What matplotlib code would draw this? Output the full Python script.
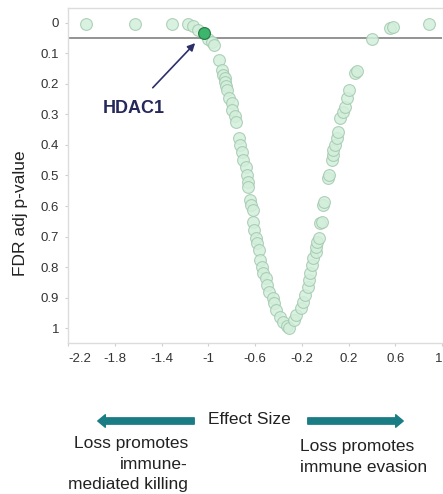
import numpy as np
import matplotlib.pyplot as plt

plt.rcParams['font.family'] = ['Liberation Sans', 'DejaVu Sans']

# effect size / FDR adjusted p-value
effect = [-2.05, -1.63, -1.31, -1.17, -1.13, -1.09, -1.00, -0.97, -0.95,
          -0.91, -0.88, -0.87, -0.86, -0.855, -0.85, -0.84, -0.82, -0.80,
          -0.795, -0.77, -0.76, -0.74, -0.73, -0.71, -0.70, -0.68, -0.67,
          -0.66, -0.66, -0.64, -0.63, -0.62, -0.615, -0.605, -0.59, -0.58,
          -0.57, -0.555, -0.54, -0.53, -0.51, -0.495, -0.48, -0.45, -0.44,
          -0.42, -0.39, -0.36, -0.33, -0.31,
          -0.27, -0.25, -0.21, -0.19, -0.17, -0.15, -0.14, -0.13, -0.11,
          -0.10, -0.08, -0.075, -0.066, -0.05, -0.04, -0.03, -0.015, -0.006,
          0.028, 0.036, 0.062, 0.071, 0.071, 0.088, 0.105, 0.114, 0.131,
          0.156, 0.174, 0.191, 0.208, 0.259, 0.276, 0.405, 0.551, 0.585, 0.885]
fdr = [0.003, 0.003, 0.003, 0.003, 0.010, 0.023, 0.052, 0.062, 0.072,
       0.121, 0.154, 0.170, 0.180, 0.193, 0.207, 0.220, 0.246, 0.262,
       0.285, 0.305, 0.325, 0.377, 0.400, 0.423, 0.449, 0.472, 0.498,
       0.521, 0.538, 0.580, 0.597, 0.613, 0.652, 0.679, 0.705, 0.721,
       0.744, 0.777, 0.800, 0.820, 0.836, 0.859, 0.882, 0.902, 0.918,
       0.941, 0.964, 0.980, 0.993, 1.000,
       0.974, 0.957, 0.934, 0.915, 0.892, 0.866, 0.843, 0.820, 0.793,
       0.770, 0.751, 0.734, 0.718, 0.705, 0.656, 0.654, 0.597, 0.587,
       0.508, 0.498, 0.449, 0.433, 0.416, 0.400, 0.377, 0.357, 0.311,
       0.292, 0.275, 0.246, 0.220, 0.164, 0.157, 0.052, 0.016, 0.013, 0.003]

hdac1_effect = -1.035
hdac1_fdr = 0.033
cutoff = 0.05

xticks = [-2.2, -1.8, -1.4, -1.0, -0.6, -0.2, 0.2, 0.6, 1.0]
xlabels = ['-2.2', '-1.8', '-1.4', '-1', '-0.6', '-0.2', '0.2', '0.6', '1']
yticks = [0, 0.1, 0.2, 0.3, 0.4, 0.5, 0.6, 0.7, 0.8, 0.9, 1.0]
ylabels = ['0', '0.1', '0.2', '0.3', '0.4', '0.5', '0.6', '0.7', '0.8', '0.9', '1']

W, H = 443, 494
fig = plt.figure(figsize=(W / 100, H / 100), dpi=100)
ax = fig.add_axes([68 / W, 1 - 343 / H, (442 - 68) / W, (343 - 8) / H])

ax.axhline(cutoff, color='#8a8a8a', lw=1.3, zorder=1)
ax.scatter(effect, fdr, s=72, facecolor='#d3efdc', edgecolor='#a3c9ae',
           linewidths=0.8, alpha=0.85, zorder=2)
ax.scatter([hdac1_effect], [hdac1_fdr], s=72, facecolor='#3db56d',
           edgecolor='#27804a', linewidths=0.9, zorder=3)

ax.annotate('HDAC1', xy=(-1.112, 0.066), xytext=(-1.64, 0.279),
            ha='center', va='center', fontsize=13, fontweight='bold',
            color='#25285a',
            arrowprops=dict(arrowstyle='-|>', color='#2d2f6b', lw=1.2,
                            shrinkA=9, shrinkB=0, mutation_scale=11))

ax.set_xlim(-2.2, 1.0)
ax.set_ylim(1.049, -0.049)
ax.set_xticks(xticks)
ax.set_xticklabels(xlabels)
ax.set_yticks(yticks)
ax.set_yticklabels(ylabels)
ax.get_xticklabels()[0].set_horizontalalignment('left')
ax.get_xticklabels()[-1].set_horizontalalignment('right')
ax.tick_params(axis='both', labelsize=9.5, colors='#cfcfcf',
               labelcolor='#333333', length=2.5)
ax.tick_params(axis='x', pad=4.5)
ax.tick_params(axis='y', pad=4)
for side in ['top', 'left', 'bottom']:
    ax.spines[side].set_color('#dcdcdc')
    ax.spines[side].set_linewidth(1.0)
ax.spines['right'].set_visible(False)

fig.text(21 / W, 1 - 213 / H, 'FDR adj p-value', rotation=90, ha='center',
         va='center', fontsize=12.5, color='#222222')

# bottom annotations
fig.text(249 / W, 1 - 419 / H, 'Effect Size', ha='center', va='center',
         fontsize=12.5, color='#222222')
teal = '#1a7c85'
astyle = 'simple,head_length=0.45,head_width=0.75,tail_width=0.38'
fig.add_artist(plt.matplotlib.patches.FancyArrowPatch(
    (197 / W, 1 - 421 / H), (95 / W, 1 - 421 / H), transform=fig.transFigure,
    arrowstyle=astyle, mutation_scale=12, color=teal))
fig.add_artist(plt.matplotlib.patches.FancyArrowPatch(
    (305 / W, 1 - 421 / H), (406 / W, 1 - 421 / H), transform=fig.transFigure,
    arrowstyle=astyle, mutation_scale=12, color=teal))

fig.text(188 / W, 1 - 464 / H, 'Loss promotes\nimmune-\nmediated killing',
         ha='right', va='center', fontsize=12.5, color='#222222',
         multialignment='right', linespacing=1.45)
fig.text(300 / W, 1 - 457 / H, 'Loss promotes\nimmune evasion',
         ha='left', va='center', fontsize=12.5, color='#222222',
         linespacing=1.45)

fig.savefig('out.png', dpi=100)
